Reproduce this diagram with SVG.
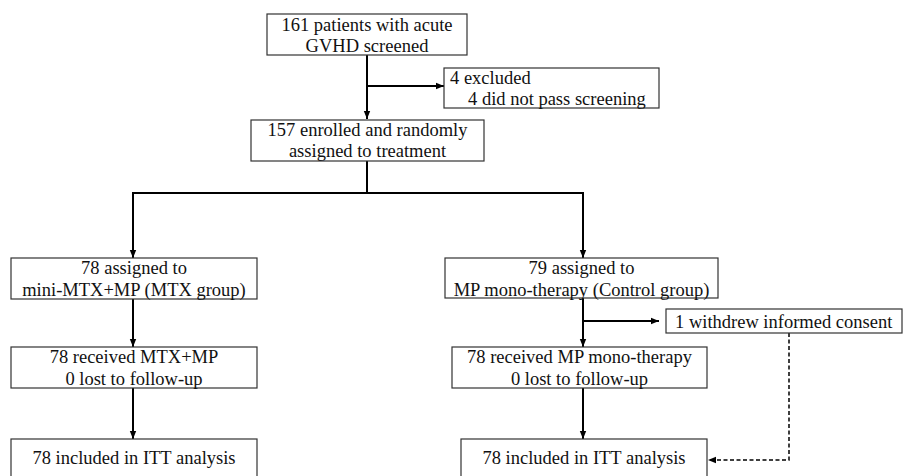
<svg xmlns="http://www.w3.org/2000/svg" width="903" height="476" viewBox="0 0 903 476">
<style>
.box{fill:#fff;stroke:#333;stroke-width:1.2}
.t{font-family:"Liberation Serif","Times New Roman",serif;font-size:18.5px;fill:#111}
.c{text-anchor:middle}
.ln{fill:none;stroke:#000;stroke-width:2}
.dash{fill:none;stroke:#000;stroke-width:1.5;stroke-dasharray:4,2.5}
</style>
<defs>
<marker id="ah" viewBox="0 0 10 10" refX="10" refY="5" markerWidth="8" markerHeight="8" markerUnits="userSpaceOnUse" orient="auto"><path d="M0,1 L10,5 L0,9 z" fill="#000"/></marker>
</defs>
<rect width="903" height="476" fill="#fff"/>
<g id="connectors">
<path class="ln" d="M367,55 V119" marker-end="url(#ah)"/>
<path class="ln" d="M367,86 H444" marker-end="url(#ah)"/>
<path class="ln" d="M367,161 V193 M133,193 H583"/>
<path class="ln" d="M133,192 V258" marker-end="url(#ah)"/>
<path class="ln" d="M583,192 V258" marker-end="url(#ah)"/>
<path class="ln" d="M133,299 V347" marker-end="url(#ah)"/>
<path class="ln" d="M133,388 V439" marker-end="url(#ah)"/>
<path class="ln" d="M583,298 V347" marker-end="url(#ah)"/>
<path class="ln" d="M583,321 H659" marker-end="url(#ah)"/>
<path class="ln" d="M583,388 V439" marker-end="url(#ah)"/>
<path class="dash" d="M789,333 V460 H708" marker-end="url(#ah)"/>
</g>
<g id="screened"><rect class="box" x="267" y="14" width="200" height="41"/><text class="t c" x="367" y="31">161 patients with acute</text><text class="t c" x="367" y="52">GVHD screened</text></g>
<g id="excluded"><rect class="box" x="444" y="68" width="215" height="40"/><text class="t" x="450" y="84">4 excluded</text><text class="t" x="468" y="105">4 did not pass screening</text></g>
<g id="enrolled"><rect class="box" x="251" y="120" width="233" height="41"/><text class="t c" x="367.5" y="136">157 enrolled and randomly</text><text class="t c" x="367.5" y="157">assigned to treatment</text></g>
<g id="mtx-assigned"><rect class="box" x="11" y="258" width="246" height="41"/><text class="t c" x="134" y="274">78 assigned to</text><text class="t c" x="134" y="296">mini-MTX+MP (MTX group)</text></g>
<g id="mtx-received"><rect class="box" x="11" y="347" width="246" height="41"/><text class="t c" x="134" y="363">78 received MTX+MP</text><text class="t c" x="134" y="385">0 lost to follow-up</text></g>
<g id="mtx-itt"><rect class="box" x="11" y="439" width="246" height="45"/><text class="t c" x="134" y="464">78 included in ITT analysis</text></g>
<g id="ctl-assigned"><rect class="box" x="445" y="258" width="273" height="40"/><text class="t c" x="581.5" y="274">79 assigned to</text><text class="t c" x="581.5" y="296">MP mono-therapy (Control group)</text></g>
<g id="withdrew"><rect class="box" x="666" y="309" width="236" height="24"/><text class="t" x="675" y="328">1 withdrew informed consent</text></g>
<g id="ctl-received"><rect class="box" x="452" y="347" width="255" height="41"/><text class="t c" x="579.5" y="363">78 received MP mono-therapy</text><text class="t c" x="579.5" y="385">0 lost to follow-up</text></g>
<g id="ctl-itt"><rect class="box" x="461" y="439" width="246" height="45"/><text class="t c" x="584" y="464">78 included in ITT analysis</text></g>
</svg>
